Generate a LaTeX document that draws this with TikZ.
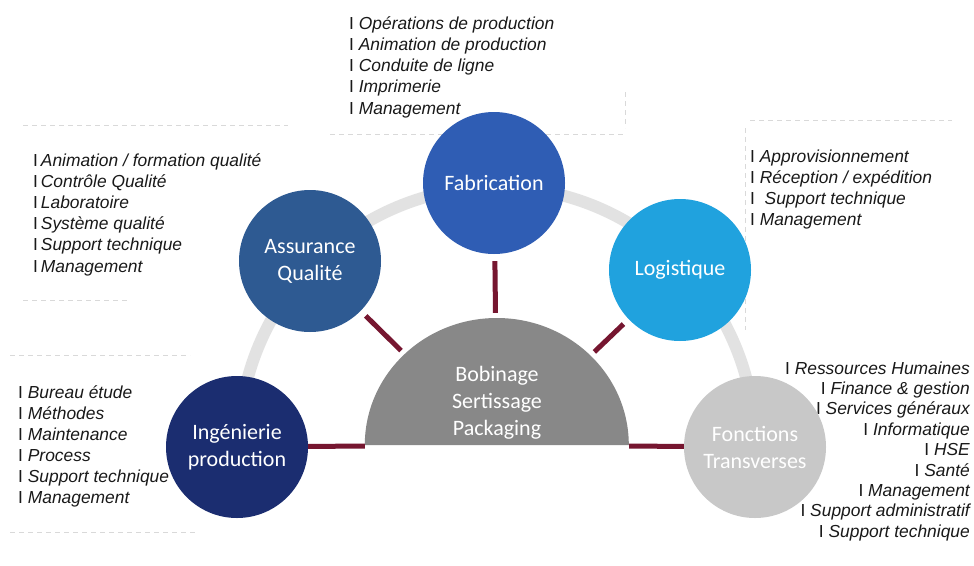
\documentclass[tikz,border=0pt]{standalone}
\usepackage{fontspec}
\setmainfont{Liberation Sans}
\newfontfamily\circfont{Carlito}
\usetikzlibrary{calc,shapes.geometric}
\definecolor{fabblue}{RGB}{47,93,180}
\definecolor{aqblue}{RGB}{46,90,146}
\definecolor{logblue}{RGB}{32,162,222}
\definecolor{ingnavy}{RGB}{27,45,112}
\definecolor{ftgray}{RGB}{200,200,200}
\definecolor{semigray}{RGB}{136,136,136}
\definecolor{linkred}{RGB}{118,22,48}
\definecolor{arcgray}{RGB}{226,226,226}
\definecolor{listblack}{RGB}{25,25,25}
\tikzset{
  bubble/.style={circle, minimum size=142pt, inner sep=0pt, text=white,
    font=\circfont\fontsize{22}{27}\selectfont, align=center},
  item/.style={inner sep=0pt, font=\fontsize{17.4}{20}\selectfont\itshape, text=listblack},
  link/.style={draw=linkred, line width=5pt, shorten <=7pt, shorten >=5pt},
  ring/.style={draw=arcgray, line width=12pt},
  sepline/.style={draw=gray!30, line width=0.8pt, dash pattern=on 5pt off 4pt},
}
\begin{document}
\begin{tikzpicture}[x=1pt,y=-1pt]
\useasboundingbox (0,0) rectangle (974,565);
\fill[white] (0,0) rectangle (974,565);

% faint separators of the text boxes
\draw[sepline] (23,125) -- (288,125);
\draw[sepline] (23,300) -- (130,300);
\draw[sepline] (330,134) -- (625,134);
\draw[sepline] (625,92) -- (625,128);
\draw[sepline] (750,120) -- (952,120);
\draw[sepline] (745,128) -- (745,330);
\draw[sepline] (10,355) -- (190,355);
\draw[sepline] (10,532) -- (195,532);

% background ring
\coordinate (hub) at (497,445);
\draw[ring] ($(hub)+(-258,0)$) arc[start angle=180, end angle=360, radius=258];

% lists (drawn below the bubbles)
\foreach \t [count=\i] in {Animation / formation qualité, Contrôle Qualité, Laboratoire, Système qualité, Support technique, Management}
  \node[item, anchor=base west] (aqitem\i) at (33,{166+21.2*(\i-1)}) {{\upshape I}\,\t};

\foreach \t [count=\i] in {Opérations de production, Animation de production, Conduite de ligne, Imprimerie, Management}
  \node[item, anchor=base west] (fabitem\i) at (349,{29+21.25*(\i-1)}) {{\upshape I}\ \t};

\foreach \t [count=\i] in {Approvisionnement, Réception / expédition, \ Support technique, Management}
  \node[item, anchor=base west] (logitem\i) at (750,{162+21*(\i-1)}) {{\upshape I}\ \t};

\foreach \t [count=\i] in {Bureau étude, Méthodes, Maintenance, Process, Support technique, Management}
  \node[item, anchor=base west] (ingitem\i) at (18,{398+21*(\i-1)}) {{\upshape I}\ \t};

\foreach \t [count=\i] in {Ressources Humaines, Finance \& gestion, Services généraux, Informatique, HSE, Santé, Management, Support administratif, Support technique}
  \node[item, anchor=base east] (ftitem\i) at (970,{374+20.4*(\i-1)}) {{\upshape I}\ \t};

% central half disc
\node[ellipse, minimum width=264pt, minimum height=254pt, inner sep=0pt] (semi) at (hub) {};
\fill[semigray] (semi.west) arc[start angle=180, end angle=360, x radius=132, y radius=127] -- cycle;
\node[font=\circfont\fontsize{22}{27}\selectfont, text=white, align=center] (semitxt) at (497,403)
  {Bobinage\\Sertissage\\Packaging};

% bubbles
\node[bubble, fill=fabblue] (fab) at (494,183) {Fabrication};
\node[bubble, fill=aqblue] (aq) at (310,261) {Assurance\\Qualité};
\node[bubble, fill=logblue] (log) at (680,270) {Logistique};
\node[bubble, fill=ingnavy] (ing) at (237,447) {Ingénierie\\production};
\node[bubble, fill=ftgray] (ft) at (755,447) {Fonctions\\Transverses};

% links
\draw[link] (fab) -- (semi);
\draw[link] (aq) -- (semi);
\draw[link] (log) -- (semi);
\draw[link, shorten <=0pt, shorten >=0pt] (ing) -- (semi);
\draw[link, shorten <=0pt, shorten >=0pt] (ft) -- (semi);
\end{tikzpicture}
\end{document}
